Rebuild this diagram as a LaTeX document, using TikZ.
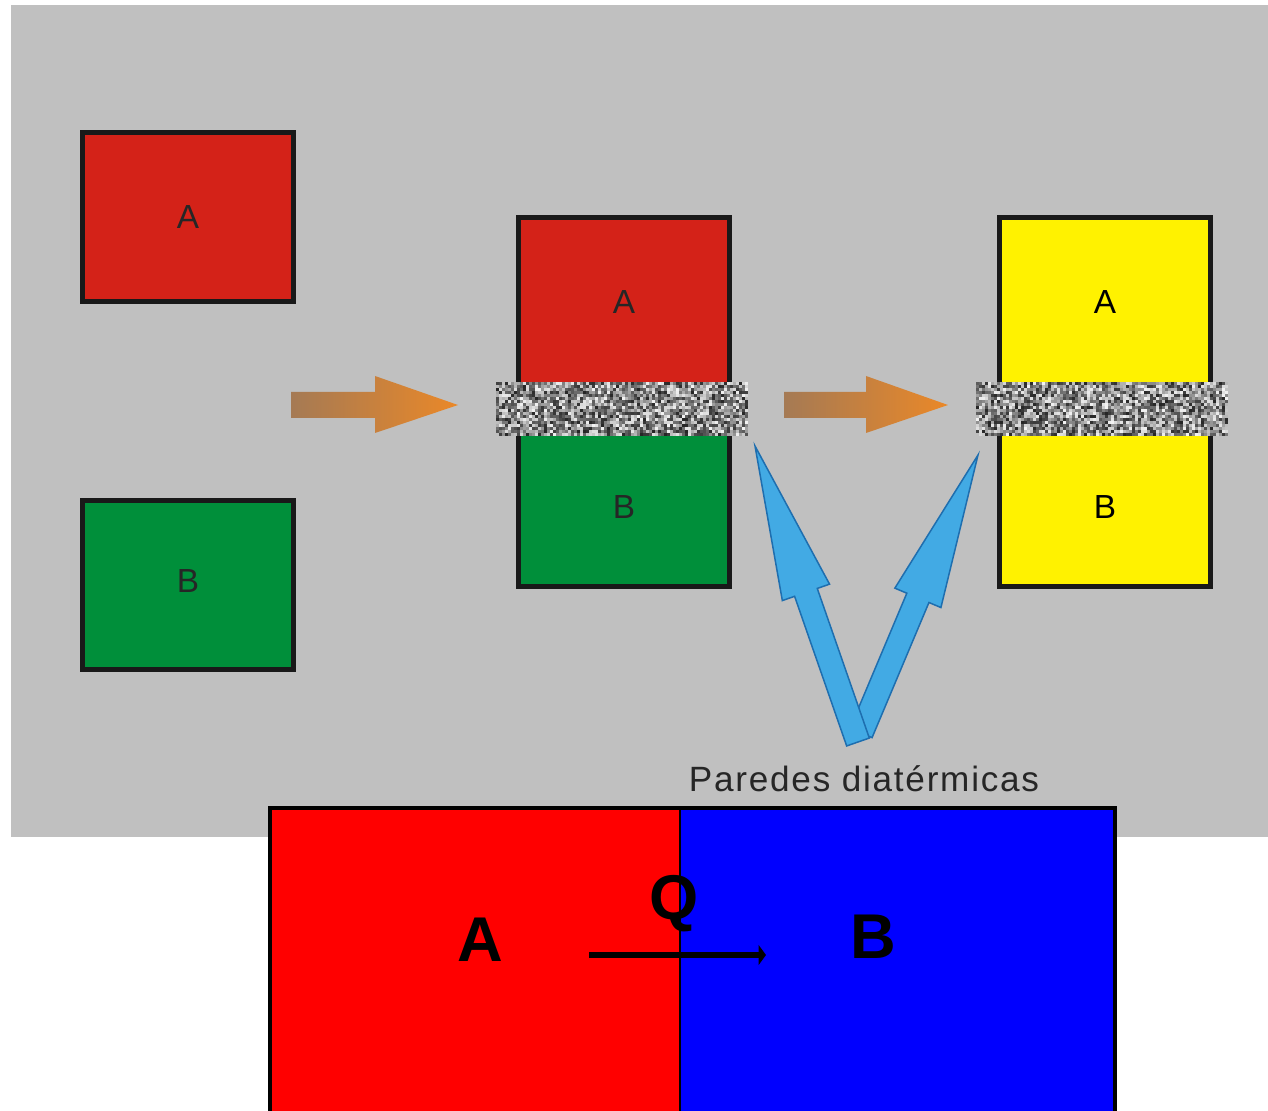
\documentclass[tikz,border=0pt]{standalone}
\usepackage{fontspec}
\setmainfont{Liberation Sans}
\usetikzlibrary{arrows.meta,calc}

\definecolor{fondo}{RGB}{192,192,192}
\definecolor{rojoA}{RGB}{212,34,24}
\definecolor{verdeB}{RGB}{0,143,58}
\definecolor{amarillo}{RGB}{255,242,0}
\definecolor{naranja}{RGB}{234,136,40}
\definecolor{marron}{RGB}{165,122,84}
\definecolor{celeste}{RGB}{66,170,228}
\definecolor{azulosc}{RGB}{30,110,175}

\tikzset{
  caja/.style={draw=black!90, line width=0.1cm},
  letra/.style={font=\fontsize{19}{22}\selectfont, text=black!85},
  grande/.style={font=\fontsize{36}{40}\selectfont\bfseries, text=black},
  flechanar/.style={left color=marron, right color=naranja},
  flechaz/.style={fill=celeste, draw=azulosc, line width=0.03cm},
}

% pared diatermica: grano aleatorio
\newcommand\ruido[2]{%
  \foreach \i in {0,3,...,249}
    \foreach \j in {0,3,...,51}{
      \pgfmathtruncatemacro\g{random(5,85)}
      \fill[black!\g] (#1+\i,#2+\j) rectangle ++(3,3);
    }
}

\begin{document}
\begin{tikzpicture}[x=0.02cm, y=-0.02cm]
    \useasboundingbox (0,0) rectangle (1268,1111);
    \fill[white] (0,0) rectangle (1268,1111);
    \fill[fondo] (11,5) rectangle (1268,837);
    \pgfmathsetseed{1234}

    % cuerpos separados
    \draw[caja, fill=rojoA] (82,133) rectangle (293,302);
    \draw[caja, fill=verdeB] (82,500) rectangle (293,669);
    \node[letra] (a1) at (188,217) {A};
    \node[letra] (b1) at (188,581) {B};

    % en contacto
    \fill[rojoA] (518,218) rectangle (729,400);
    \fill[verdeB] (518,400) rectangle (729,586);
    \draw[caja] (518,218) rectangle (729,586);
    \ruido{496}{382}
    \node[letra] (a2) at (624,302) {A};
    \node[letra] (b2) at (624,507) {B};

    % equilibrio
    \draw[caja, fill=amarillo] (999,218) rectangle (1210,586);
    \ruido{976}{382}
    \node[letra, text=black] (a3) at (1105,302) {A};
    \node[letra, text=black] (b3) at (1105,507) {B};

    % flechas naranjas
    \shade[flechanar] (291,392) -- (375,392) -- (375,376) -- (458,405)
        -- (375,433) -- (375,418) -- (291,418) -- cycle;
    \shade[flechanar] (784,392) -- (866,392) -- (866,376) -- (948,405)
        -- (866,433) -- (866,418) -- (784,418) -- cycle;

    % flechas azules hacia las paredes
    \coordinate (pieI) at (858,742);
    \coordinate (pieD) at (861,733);
    \coordinate (puntaI) at (755,446);
    \coordinate (puntaD) at (978,455);
    \filldraw[flechaz] let \p1=(pieD), \p2=(puntaD),
        \n1={atan2(\y2-\y1,\x2-\x1)}, \n2={veclen(\x2-\x1,\y2-\y1)} in
        [shift={(\p1)}, rotate=\n1]
        (0pt,-0.24cm) -- (\n2-3.1cm,-0.24cm) -- (\n2-3.1cm,-0.5cm) -- (\n2,0pt)
        -- (\n2-3.1cm,0.5cm) -- (\n2-3.1cm,0.24cm) -- (0pt,0.24cm) -- cycle;
    \filldraw[flechaz] let \p1=(pieI), \p2=(puntaI),
        \n1={atan2(\y2-\y1,\x2-\x1)}, \n2={veclen(\x2-\x1,\y2-\y1)} in
        [shift={(\p1)}, rotate=\n1]
        (0pt,-0.24cm) -- (\n2-3.1cm,-0.24cm) -- (\n2-3.1cm,-0.5cm) -- (\n2,0pt)
        -- (\n2-3.1cm,0.5cm) -- (\n2-3.1cm,0.24cm) -- (0pt,0.24cm) -- cycle;
    \node[font=\fontsize{20}{24}\selectfont\addfontfeature{LetterSpace=5}, text=black!85]
        (paredes) at (864,779) {Paredes diatérmicas};

    % calor de A a B
    \fill[red] (270,808) rectangle (680,1115);
    \fill[blue] (680,808) rectangle (1115,1115);
    \draw[line width=0.03cm] (680,808) -- (680,1115);
    \draw[line width=0.07cm] (270,1115) -- (270,808) -- (1115,808) -- (1115,1115);
    \node[grande] (labA) at (480,940) {A};
    \node[grande] (labQ) at (674,904) {Q};
    \node[grande] (labB) at (873,937) {B};
    \coordinate (qini) at (589,955);
    \coordinate (qfin) at (766,955);
    \draw[line width=0.11cm, -{Triangle[length=0.15cm, width=0.4cm]}] (qini) -- (qfin);
\end{tikzpicture}
\end{document}
